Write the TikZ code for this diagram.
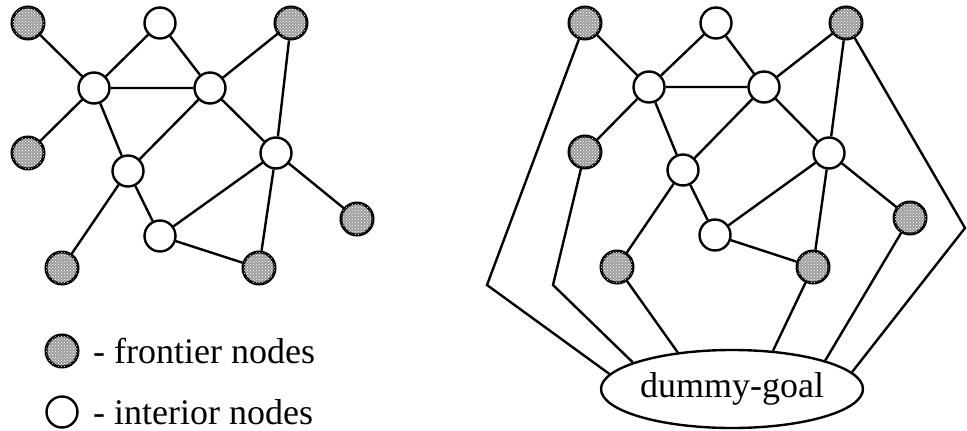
\documentclass[tikz,border=0pt]{standalone}
\usepackage{fontspec}
\setmainfont{Liberation Serif}
\usetikzlibrary{shapes.geometric,patterns}
\tikzset{
  interior/.style={circle,draw=black,fill=white,line width=2.4pt,minimum size=31pt,inner sep=0pt},
  frontier/.style={circle,draw=black,fill=gray!75,line width=3pt,minimum size=32pt,inner sep=0pt,
    postaction={pattern=crosshatch dots,pattern color=white}},
  edge/.style={line width=2.4pt},
  lbl/.style={font=\fontsize{36}{40}\selectfont,inner sep=0pt},
}
\begin{document}
\begin{tikzpicture}[x=1pt,y=-1pt]
\useasboundingbox (0,0) rectangle (967,431);
% ---------- left graph ----------
\node[frontier] (lf1) at (28,23) {};
\node[interior] (li1) at (160,23) {};
\node[frontier] (lf2) at (291,23) {};
\node[interior] (li2) at (94,88) {};
\node[interior] (li3) at (210,88) {};
\node[frontier] (lf3) at (28,153) {};
\node[interior] (li4) at (128,171) {};
\node[interior] (li5) at (276,153) {};
\node[frontier] (lf4) at (357,219) {};
\node[interior] (li6) at (160,236) {};
\node[frontier] (lf5) at (62,268) {};
\node[frontier] (lf6) at (259,268) {};
\draw[edge] (lf1)--(li2) (li1)--(li2) (li1)--(li3) (li2)--(li3) (lf2)--(li3)
  (lf2)--(li5) (li2)--(lf3) (li2)--(li4) (li3)--(li4) (li3)--(li5)
  (li4)--(lf5) (li4)--(li6) (li5)--(li6) (li5)--(lf6) (li5)--(lf4) (li6)--(lf6);
% ---------- right graph ----------
\node[frontier] (rf1) at (585,23) {};
\node[interior] (ri1) at (716,23) {};
\node[frontier] (rf2) at (846,23) {};
\node[interior] (ri2) at (649,87) {};
\node[interior] (ri3) at (764,87) {};
\node[frontier] (rf3) at (585,152) {};
\node[interior] (ri4) at (683,170) {};
\node[interior] (ri5) at (829,153) {};
\node[frontier] (rf4) at (910,218) {};
\node[interior] (ri6) at (715,235) {};
\node[frontier] (rf5) at (617,267) {};
\node[frontier] (rf6) at (813,267) {};
\draw[edge] (rf1)--(ri2) (ri1)--(ri2) (ri1)--(ri3) (ri2)--(ri3) (rf2)--(ri3)
  (rf2)--(ri5) (ri2)--(rf3) (ri2)--(ri4) (ri3)--(ri4) (ri3)--(ri5)
  (ri4)--(rf5) (ri4)--(ri6) (ri5)--(ri6) (ri5)--(rf6) (ri5)--(rf4) (ri6)--(rf6);
\node[ellipse,draw=black,line width=2.4pt,minimum width=262pt,minimum height=78pt,inner sep=0pt,
  font=\fontsize{36}{40}\selectfont] (dg) at (732,389) {dummy-goal};
\coordinate (b1) at (487,285);
\coordinate (b2) at (553,285);
\coordinate (b3) at (965,228);
\draw[edge,line join=miter] (rf1)--(b1)--(dg.173);
\draw[edge,line join=miter] (rf3)--(b2)--(dg.165);
\draw[edge] (rf5)--(dg.146);
\draw[edge] (rf6)--(dg.43);
\draw[edge] (rf4)--(dg.17);
\draw[edge,line join=miter] (rf2)--(b3)--(dg.8);
% ---------- legend ----------
\node[frontier] (kf) at (62,351) {};
\node[interior] (ki) at (62,412) {};
\node[lbl,anchor=west] (kft) at (93,351) {- frontier nodes};
\node[lbl,anchor=west] (kit) at (93,412) {- interior nodes};
\end{tikzpicture}
\end{document}
